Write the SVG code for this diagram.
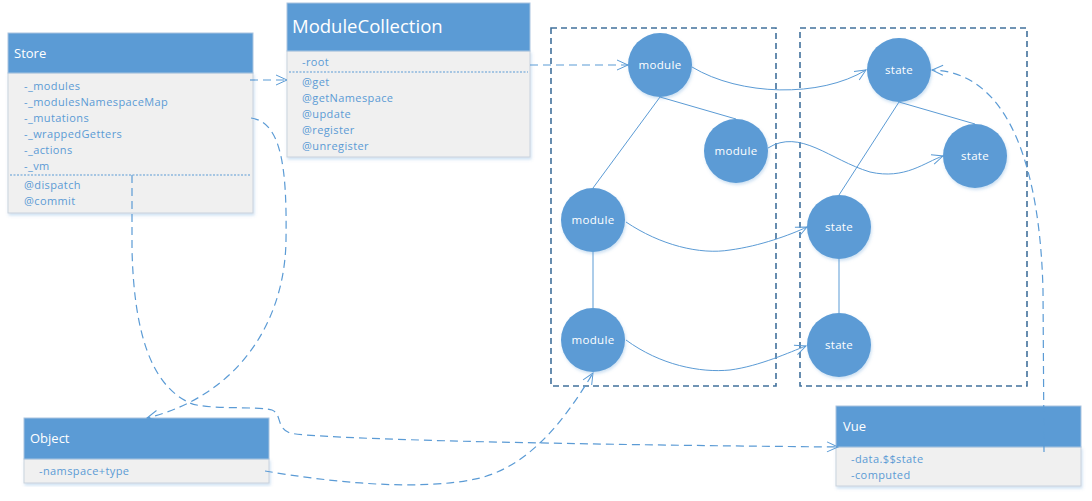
<svg xmlns="http://www.w3.org/2000/svg" width="1092" height="501" viewBox="0 0 1092 501">
<style>
.hdr{fill:#5B9BD5;stroke:#A9C4E0;stroke-width:1}
.body{fill:#F0F0F0;stroke:#C9D3DE;stroke-width:1}
.htxt{fill:#FFFFFF;font-family:"Open Sans","Noto Sans",sans-serif;font-size:13px}
.item{fill:#5B9BD5;font-family:"Open Sans","Noto Sans",sans-serif;font-size:11px;letter-spacing:0.4px}
.sep{stroke:#5B9BD5;stroke-width:1;stroke-dasharray:2 1.5}
.frame{fill:none;stroke:#41719C;stroke-width:1.6;stroke-dasharray:6 4}
.circ{fill:#5B9BD5}
.ctxt{fill:#FFFFFF;font-family:"Open Sans","Noto Sans",sans-serif;font-size:11.5px;text-anchor:middle;letter-spacing:0.3px}
.solid{fill:none;stroke:#5B9BD5;stroke-width:1}
.dash{fill:none;stroke:#5B9BD5;stroke-width:1.2;stroke-dasharray:8 5}
</style>
<defs>
<marker id="arr" markerWidth="14" markerHeight="12" refX="12" refY="6" orient="auto" markerUnits="userSpaceOnUse">
<path d="M1,1 L12,6 L1,11" fill="none" stroke="#5B9BD5" stroke-width="1"/>
</marker>
<filter id="sh" x="-10%" y="-10%" width="125%" height="125%">
<feDropShadow dx="1" dy="2" stdDeviation="1.5" flood-color="#5B9BD5" flood-opacity="0.3"/>
</filter>
</defs>
<rect width="1092" height="501" fill="#FFFFFF"/>

<g id="frames">
<rect class="frame" x="551" y="28" width="225" height="358"/>
<rect class="frame" x="800" y="28" width="227" height="358"/>
</g>

<g id="store">
<rect class="body" x="8" y="73" width="245" height="140" filter="url(#sh)"/>
<rect class="hdr" x="8" y="33" width="245" height="40"/>
<text class="htxt" x="14" y="58">Store</text>
<text class="item" x="24" y="90">-_modules</text>
<text class="item" x="24" y="106">-_modulesNamespaceMap</text>
<text class="item" x="24" y="122">-_mutations</text>
<text class="item" x="24" y="138">-_wrappedGetters</text>
<text class="item" x="24" y="154">-_actions</text>
<text class="item" x="24" y="170">-_vm</text>
<line class="sep" x1="10" y1="175" x2="251" y2="175"/>
<text class="item" x="24" y="189">@dispatch</text>
<text class="item" x="24" y="205">@commit</text>
</g>

<g id="modulecollection">
<rect class="body" x="287" y="51" width="243" height="106" filter="url(#sh)"/>
<rect class="hdr" x="287" y="3" width="243" height="48"/>
<text class="htxt" x="292" y="33" style="font-size:18.5px">ModuleCollection</text>
<text class="item" x="302" y="66">-root</text>
<line class="sep" x1="289" y1="72" x2="528" y2="72"/>
<text class="item" x="302" y="86">@get</text>
<text class="item" x="302" y="102">@getNamespace</text>
<text class="item" x="302" y="118">@update</text>
<text class="item" x="302" y="134">@register</text>
<text class="item" x="302" y="150">@unregister</text>
</g>

<g id="module1"><circle class="circ" cx="660" cy="65" r="32" filter="url(#sh)"/><text class="ctxt" x="660" y="69">module</text></g>
<g id="module2"><circle class="circ" cx="736" cy="151" r="32" filter="url(#sh)"/><text class="ctxt" x="736" y="155">module</text></g>
<g id="module3"><circle class="circ" cx="593" cy="220" r="32" filter="url(#sh)"/><text class="ctxt" x="593" y="224">module</text></g>
<g id="module4"><circle class="circ" cx="593" cy="340" r="32" filter="url(#sh)"/><text class="ctxt" x="593" y="344">module</text></g>
<g id="state1"><circle class="circ" cx="899" cy="70" r="32" filter="url(#sh)"/><text class="ctxt" x="899" y="74">state</text></g>
<g id="state2"><circle class="circ" cx="975" cy="156" r="32" filter="url(#sh)"/><text class="ctxt" x="975" y="160">state</text></g>
<g id="state3"><circle class="circ" cx="839" cy="227" r="32" filter="url(#sh)"/><text class="ctxt" x="839" y="231">state</text></g>
<g id="state4"><circle class="circ" cx="839" cy="345" r="32" filter="url(#sh)"/><text class="ctxt" x="839" y="349">state</text></g>

<g id="object">
<rect class="body" x="24" y="459" width="245" height="24" filter="url(#sh)"/>
<rect class="hdr" x="24" y="418" width="245" height="41"/>
<text class="htxt" x="30" y="443">Object</text>
<text class="item" x="39" y="475">-namspace+type</text>
</g>

<g id="vue">
<rect class="body" x="836" y="447" width="245" height="39" filter="url(#sh)"/>
<rect class="hdr" x="836" y="406" width="245" height="41"/>
<text class="htxt" x="843" y="431">Vue</text>
<text class="item" x="851" y="463">-data.$$state</text>
<text class="item" x="851" y="479">-computed</text>
</g>

<g id="connectors">
<line class="solid" x1="660" y1="97" x2="593" y2="188"/>
<line class="solid" x1="660" y1="97" x2="736" y2="119"/>
<line class="solid" x1="593" y1="252" x2="593" y2="308"/>
<line class="solid" x1="899" y1="102" x2="839" y2="195"/>
<line class="solid" x1="899" y1="102" x2="975" y2="124"/>
<line class="solid" x1="839" y1="259" x2="839" y2="313"/>
<path class="solid" d="M692,67 C740,96 820,98 866,70" marker-end="url(#arr)"/>
<path class="solid" d="M768,148 C800,128 830,160 870,172 C905,180 925,162 943,156" marker-end="url(#arr)"/>
<path class="solid" d="M626,222 C660,245 700,255 730,250 C760,246 790,235 807,227" marker-end="url(#arr)"/>
<path class="solid" d="M626,340 C660,365 700,373 730,370 C760,366 790,352 806,346" marker-end="url(#arr)"/>
<path class="dash" d="M250,80 L287,80" marker-end="url(#arr)"/>
<path class="dash" d="M530,65 L628,65" marker-end="url(#arr)"/>
<path class="dash" d="M251,118 C282,122 287,170 286,240 C285,320 240,395 147,418" marker-end="url(#arr)"/>
<path class="dash" d="M132,175 L132,250 C134,330 150,385 190,403 C205,410 260,406 272,410 C282,414 276,428 290,433 C310,438 500,444 838,447" marker-end="url(#arr)"/>
<path class="dash" d="M265,471 C330,482 420,492 480,478 C530,465 565,420 593,373" marker-end="url(#arr)"/>
<path class="dash" d="M1044,452 L1043,290 C1040,170 1010,72 932,70" marker-end="url(#arr)"/>
</g>
</svg>
